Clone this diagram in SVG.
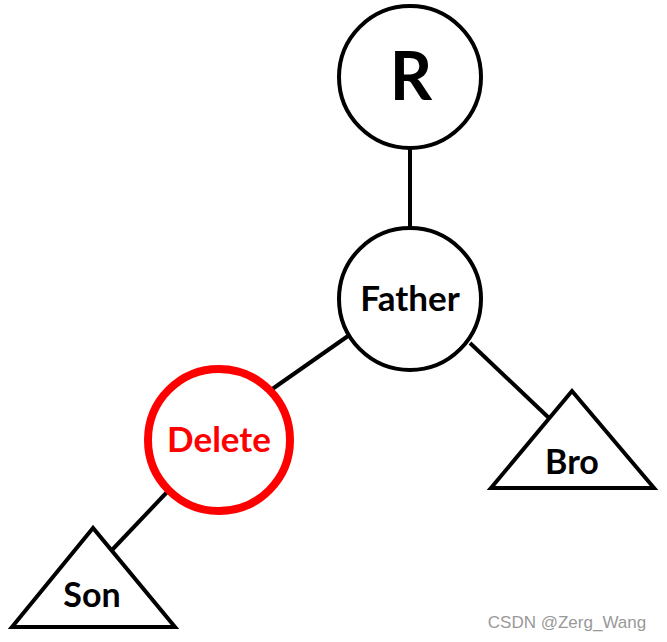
<svg xmlns="http://www.w3.org/2000/svg" width="667" height="642" viewBox="0 0 667 642">
<style>
.n{fill:#fff;stroke:#000;stroke-width:4}
.t{font-family:Lato,"Liberation Sans",sans-serif;font-weight:bold;text-anchor:middle;fill:#000}
.c{stroke:#000;stroke-width:4;fill:none}
</style>
<rect width="667" height="642" fill="#fff"/>
<g id="connectors">
<line class="c" x1="410" y1="148" x2="410" y2="228"/>
<line class="c" x1="348" y1="336" x2="268" y2="392"/>
<line class="c" x1="470" y1="343" x2="549" y2="418"/>
<line class="c" x1="169" y1="490" x2="112" y2="550"/>
</g>
<g id="R">
<circle class="n" cx="410" cy="77" r="71"/>
<text class="t" x="411" y="100" font-size="66">R</text>
</g>
<g id="Father">
<circle class="n" cx="410" cy="299" r="71"/>
<text class="t" x="410" y="311" font-size="35">Father</text>
</g>
<g id="Delete">
<circle cx="219" cy="440" r="71" fill="#fff" stroke="#f00" stroke-width="8"/>
<text class="t" x="219" y="452" font-size="35" style="fill:#f00">Delete</text>
</g>
<g id="Son">
<polygon class="n" points="93,528 12,627 175,627"/>
<text class="t" x="92" y="607" font-size="34">Son</text>
</g>
<g id="Bro">
<polygon class="n" points="572,391 491,488 654,488"/>
<text class="t" x="572" y="474" font-size="34">Bro</text>
</g>
<text x="567" y="628" font-family="'Liberation Sans',sans-serif" font-size="17" fill="#999" text-anchor="middle">CSDN @Zerg_Wang</text>
</svg>
